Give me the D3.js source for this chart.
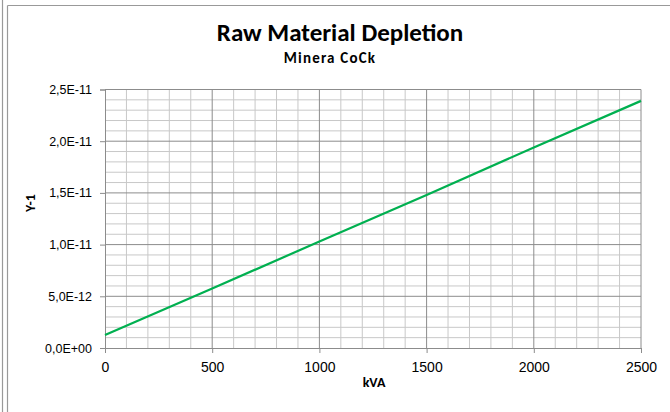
<!DOCTYPE html>
<html>
<head>
<meta charset="utf-8">
<script src="https://cdn.jsdelivr.net/npm/d3@7"></script>
<style>
  body { margin: 0; background: #fff; }
  text { font-family: Carlito, Lato, "Liberation Sans", sans-serif; fill: #000; }
</style>
</head>
<body>
<script>
var kva = [0, 500, 1000, 1500, 2000, 2500];
var depletion = [1.25e-12, 5.75e-12, 1.03e-11, 1.48e-11, 1.94e-11, 2.39e-11];
var yTicks = [0, 5e-12, 1e-11, 1.5e-11, 2e-11, 2.5e-11];
var yTickLabels = ["0,0E+00", "5,0E-12", "1,0E-11", "1,5E-11", "2,0E-11", "2,5E-11"];

var width = 670, height = 412;
var plot = {left: 105, right: 641, top: 89.5, bottom: 348};

var svg = d3.select("body").append("svg")
    .attr("width", width)
    .attr("height", height);

// outer frame
svg.append("line").attr("x1", 2.5).attr("x2", 2.5).attr("y1", 0).attr("y2", height)
    .attr("stroke", "#999").attr("stroke-width", 1.2);
svg.append("line").attr("x1", 7.5).attr("x2", 7.5).attr("y1", 5.5).attr("y2", height)
    .attr("stroke", "#999").attr("stroke-width", 1.2);
svg.append("line").attr("x1", 7.5).attr("x2", width).attr("y1", 5.5).attr("y2", 5.5)
    .attr("stroke", "#999").attr("stroke-width", 1.2);

var x = d3.scaleLinear().domain([0, 2500]).range([plot.left, plot.right]);
var y = d3.scaleLinear().domain([0, 2.5e-11]).range([plot.bottom, plot.top]);

// minor grid
var g = svg.append("g");
g.selectAll(".vminor").data(d3.range(100, 2500, 100).filter(function(d) { return d % 500; }))
  .enter().append("line")
    .attr("x1", function(d) { return x(d); }).attr("x2", function(d) { return x(d); })
    .attr("y1", plot.top).attr("y2", plot.bottom)
    .attr("stroke", "#c8c8c8");
g.selectAll(".hminor").data(d3.range(1, 25).filter(function(d) { return d % 5; }))
  .enter().append("line")
    .attr("x1", plot.left).attr("x2", plot.right)
    .attr("y1", function(d) { return y(d * 1e-12); }).attr("y2", function(d) { return y(d * 1e-12); })
    .attr("stroke", "#c8c8c8");

// major grid
g.selectAll(".vmajor").data([500, 1000, 1500, 2000, 2500])
  .enter().append("line")
    .attr("x1", function(d) { return x(d); }).attr("x2", function(d) { return x(d); })
    .attr("y1", plot.top).attr("y2", plot.bottom)
    .attr("stroke", "#8c8c8c");
g.selectAll(".hmajor").data(yTicks.slice(1))
  .enter().append("line")
    .attr("x1", plot.left).attr("x2", plot.right)
    .attr("y1", function(d) { return y(d); }).attr("y2", function(d) { return y(d); })
    .attr("stroke", "#8c8c8c");

// axes
var xAxis = d3.axisBottom(x).tickValues(kva).tickSize(5).tickPadding(9)
    .tickFormat(d3.format("d"));
var yAxis = d3.axisLeft(y).tickValues(yTicks).tickSize(5).tickPadding(8)
    .tickFormat(function(d, i) { return yTickLabels[i]; });

svg.append("g").attr("transform", "translate(0," + plot.bottom + ")").call(xAxis)
  .call(function(s) {
    s.select(".domain").attr("stroke", "#8c8c8c");
    s.selectAll(".tick line").attr("stroke", "#8c8c8c");
    s.selectAll("text").attr("font-size", 14).style("font-family", "inherit");
  });
svg.append("g").attr("transform", "translate(" + plot.left + ",0)").call(yAxis)
  .call(function(s) {
    s.select(".domain").attr("stroke", "#8c8c8c");
    s.selectAll(".tick line").attr("stroke", "#8c8c8c");
    s.selectAll("text").attr("font-size", 12.5).style("font-family", "inherit");
  });

// series
var line = d3.line()
    .x(function(d, i) { return x(kva[i]); })
    .y(function(d) { return y(d); });

svg.append("path")
    .datum(depletion)
    .attr("d", line)
    .attr("fill", "none")
    .attr("stroke", "#00b050")
    .attr("stroke-width", 2.2);

// titles
svg.append("text").attr("x", 340).attr("y", 41)
    .attr("text-anchor", "middle").attr("font-size", 25).attr("font-weight", "bold")
    .text("Raw Material Depletion");
svg.append("text").attr("x", 330).attr("y", 63)
    .attr("text-anchor", "middle").attr("font-size", 15).attr("font-weight", "bold")
    .attr("letter-spacing", 1.2)
    .text("Minera CoCk");
svg.append("text").attr("x", 374).attr("y", 387)
    .attr("text-anchor", "middle").attr("font-size", 14).attr("font-weight", "bold")
    .text("kVA");
svg.append("text").attr("transform", "translate(35,203) rotate(-90)")
    .attr("text-anchor", "middle").attr("font-size", 14).attr("font-weight", "bold")
    .text("Y-1");
</script>
</body>
</html>
